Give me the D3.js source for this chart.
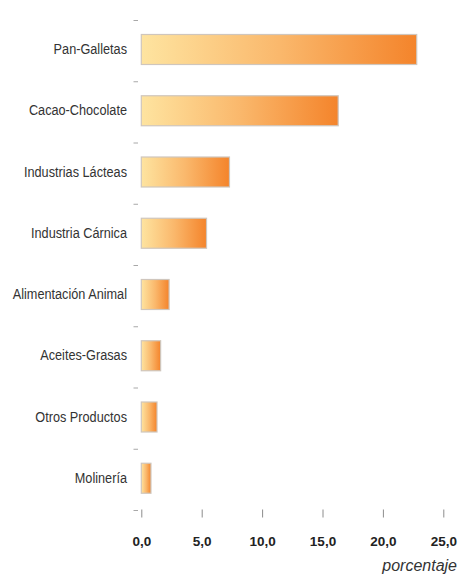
<!DOCTYPE html>
<html>
<head>
<meta charset="utf-8">
<script src="https://cdn.jsdelivr.net/npm/d3@7"></script>
<style>
  html, body { margin: 0; padding: 0; background: #fff; }
  svg { display: block; }
</style>
</head>
<body>
<svg id="chart" width="460" height="575"></svg>
<script>
// Sector shares (percentage)
const categories = [
  "Pan-Galletas",
  "Cacao-Chocolate",
  "Industrias Lácteas",
  "Industria Cárnica",
  "Alimentación Animal",
  "Aceites-Grasas",
  "Otros Productos",
  "Molinería"
];
const values = [22.8, 16.3, 7.3, 5.4, 2.3, 1.6, 1.3, 0.8];
const tickValues = [0, 5, 10, 15, 20, 25];
const tickLabels = ["0,0", "5,0", "10,0", "15,0", "20,0", "25,0"];
const axisTitle = "porcentaje";

const svg = d3.select("#chart");

const x = d3.scaleLinear().domain([0, 25]).range([141.3, 443.3]);
const y = d3.scaleBand().domain(categories).range([20, 510]).paddingInner(0).paddingOuter(0);

const plainFont = "'Liberation Sans', Arial, Helvetica, sans-serif";

// Bar fill: pale yellow to orange along each bar
const defs = svg.append("defs");
const grad = defs.append("linearGradient")
  .attr("id", "barFill")
  .attr("x1", "0%").attr("y1", "0%")
  .attr("x2", "100%").attr("y2", "0%");
grad.append("stop").attr("offset", "0%").attr("stop-color", "#fee4a0");
grad.append("stop").attr("offset", "50%").attr("stop-color", "#fab86c");
grad.append("stop").attr("offset", "100%").attr("stop-color", "#f4842b");

// Category separators on the left
const bounds = categories.map(c => y(c)).concat([y.range()[1]]);
svg.append("g")
  .selectAll("line")
  .data(bounds)
  .join("line")
  .attr("x1", 133.5).attr("x2", 138)
  .attr("y1", d => d + 0.5).attr("y2", d => d + 0.5)
  .attr("stroke", "#a8a8a8")
  .attr("stroke-width", 1);

// Bars
const barOffset = 14.5, barHeight = 30;
svg.append("g")
  .selectAll("rect")
  .data(categories)
  .join("rect")
  .attr("x", x(0))
  .attr("y", c => y(c) + barOffset)
  .attr("width", (c, i) => x(values[i]) - x(0))
  .attr("height", barHeight)
  .attr("fill", "url(#barFill)")
  .attr("stroke", "#cfc6bd")
  .attr("stroke-width", 1.2);

// Category labels (condensed sans)
svg.append("g")
  .selectAll("text")
  .data(categories)
  .join("text")
  .attr("transform", c => `translate(127,${y(c) + barOffset + barHeight / 2 + 4.5}) scale(0.82,1)`)
  .attr("text-anchor", "end")
  .attr("font-family", plainFont)
  .attr("font-size", "15.5px")
  .attr("fill", "#333")
  .text(d => d);

// Value axis
const xAxis = d3.axisBottom(x)
  .tickValues(tickValues)
  .tickFormat((d, i) => tickLabels[i])
  .tickSize(8)
  .tickPadding(19);
const gx = svg.append("g")
  .attr("transform", "translate(0,509.5)")
  .call(xAxis);
gx.select(".domain").remove();
gx.selectAll(".tick line").attr("stroke", "#8c8c8c").attr("stroke-width", 1);
gx.selectAll(".tick text")
  .attr("font-family", plainFont)
  .attr("font-size", "13.5px")
  .attr("font-weight", "bold")
  .attr("fill", "#222");

// Axis title
svg.append("text")
  .attr("x", 457)
  .attr("y", 570.5)
  .attr("text-anchor", "end")
  .attr("font-family", plainFont)
  .attr("font-style", "italic")
  .attr("font-size", "16px")
  .attr("fill", "#333")
  .text(axisTitle);
</script>
</body>
</html>
